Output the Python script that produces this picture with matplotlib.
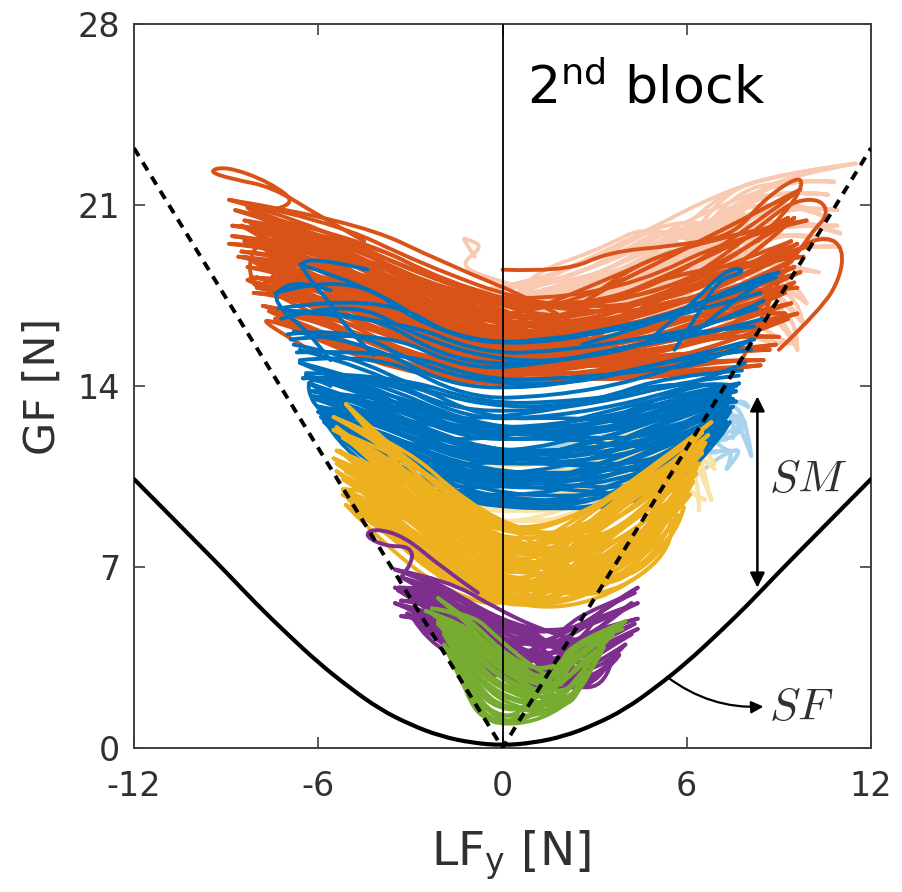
import matplotlib
matplotlib.use("Agg")
import matplotlib.pyplot as plt
from matplotlib.path import Path
from matplotlib.patches import PathPatch

# --- axis ticks
x_ticks = [-12, -6, 0, 6, 12]
y_ticks = [0, 7, 14, 21, 28]

# --- slip-force curve and slip ratio line
sf_lf = [-12, -11, -10, -9, -8, -7, -6, -5, -4, -3, -2, -1, 0, 1, 2, 3, 4, 5, 6, 7, 8, 9, 10, 11, 12]
sf_gf = [10.4, 9.2, 8.0, 6.8, 5.55, 4.4, 3.3, 2.35, 1.5, 0.9, 0.45, 0.2, 0.1, 0.2, 0.45, 0.9, 1.5, 2.35, 3.3, 4.4, 5.55, 6.8, 8.0, 9.2, 10.4]
dash_lf = [-12, 0, 12]
dash_gf = [23.2, 0, 23.2]

# --- orange block
orange_lf = [[-9, -6.5, -3.5, 0, 3.2, 6.2, 9.2],
             [-8.2, -5.6, -2.6, 0.8, 3.8, 6.8, 9.6],
             [-7.7, -4.8, -1.8, 1.3, 4.5, 7.2, 8.8],
             [-8.6, -6, -3, -0.6, 2.5, 5.5, 8.2]]
orange_start = [-8.9, -8.7, -8.3, -8.4, -8.8, -8.2, -8.5, -8.8, -8.9, -8.4, -8.1, -8.5,
                -8.6, -8.2, -8.4, -8.3, -8.2, -8.0, -8.3, -8.0, -8.1, -7.8, -7.6, -7.4]
orange_end = [9.5, 9.7, 9.9, 9.4, 9.6, 9.3, 9.8, 9.5, 9.3, 9.9, 9.6, 9.2,
              9.5, 9.7, 9.2, 9.6, 9.0, 9.4, 9.0, 8.9, 9.3, 8.7, 8.5, 8.4]
orange_gf = [[21.2, 20.4, 18.7, 17.2, 17.2, 18.0, 20.5],
             [20.8, 19.8, 18.0, 17.0, 17.3, 19.0, 21.6],
             [20.9, 19.3, 17.6, 17.3, 18.0, 19.6, 20.4],
             [20.4, 19.9, 18.3, 17.1, 17.0, 17.8, 19.6],
             [20.2, 19.8, 18.0, 16.5, 16.8, 17.8, 19.5],
             [20.3, 19.2, 17.2, 16.6, 16.9, 18.3, 20.5],
             [20.2, 18.8, 16.9, 16.5, 17.2, 18.6, 19.0],
             [19.8, 19.4, 17.6, 16.4, 16.3, 17.0, 18.6],
             [19.5, 19.2, 17.6, 15.9, 16.0, 17.0, 18.8],
             [19.6, 18.6, 16.6, 16.0, 16.4, 17.6, 19.4],
             [19.6, 18.2, 16.4, 15.9, 16.4, 17.6, 17.8],
             [19.2, 18.9, 17.1, 15.8, 15.7, 16.3, 17.6],
             [19.0, 18.6, 17.0, 15.4, 15.6, 16.6, 18.0],
             [18.9, 18.0, 16.1, 15.5, 15.9, 16.8, 18.4],
             [19.0, 17.7, 15.8, 15.3, 15.7, 16.9, 16.8],
             [18.6, 18.2, 16.6, 15.3, 15.2, 15.8, 16.8],
             [18.2, 18.0, 16.4, 14.9, 15.2, 16.0, 17.6],
             [18.2, 17.4, 15.5, 15.0, 15.3, 16.1, 17.2],
             [18.1, 17.0, 15.2, 14.8, 15.2, 16.0, 15.9],
             [17.8, 17.5, 15.9, 14.7, 14.7, 15.2, 15.6],
             [17.6, 17.4, 15.8, 14.4, 14.8, 15.6, 16.6],
             [17.1, 16.5, 15.0, 14.3, 14.7, 15.3, 15.4],
             [16.9, 16.2, 14.6, 14.2, 14.4, 15.0, 15.0],
             [16.6, 16.0, 14.6, 14.0, 14.2, 14.6, 14.8]]
orange_extra_lf = [[-4.5, -6, -7.5, -8.8, -9.6, -9.0, -7.6, -6.6, -7.6],
                   [-4.8, -6.4, -8.0, -8.3, -8.0, -7.2, -6.6, -6.0, -5.2],
                   [-5.2, -6.2, -7.2, -7.9, -7.0, -6.0],
                   [0.0, 2.0, 3.5, 5.5, 7.5, 8.5, 9.6, 9.8, 9.3, 8.3],
                   [4.5, 7.0, 8.8, 9.6, 10.4, 10.6, 10.1, 9.4],
                   [7.8, 8.8, 9.6, 10.6, 11.1, 11.0, 10.4, 9.0]]
orange_extra_gf = [[19.6, 20.6, 21.7, 22.0, 22.3, 22.5, 21.9, 21.0, 20.8],
                   [18.8, 19.8, 19.6, 18.6, 17.6, 18.6, 18.8, 18.0, 17.0],
                   [15.6, 16.0, 16.4, 16.6, 15.9, 15.2],
                   [18.5, 18.4, 19.2, 19.4, 19.8, 21.2, 22.1, 21.8, 20.8, 19.6],
                   [17.0, 18.8, 20.6, 21.2, 21.2, 20.6, 20.0, 18.8],
                   [15.0, 17.6, 19.4, 19.8, 19.3, 18.2, 17.0, 15.4]]

# --- blue block
blue_lf = [[-7.2, -5, -2.6, 0.2, 3, 5.4, 7.8],
           [-6.6, -4.4, -1.8, 1, 3.8, 6, 7.2],
           [-6.2, -4, -1.2, 1.6, 4.4, 6.6, 8.6],
           [-5.6, -3.4, -0.6, 2.2, 4.8, 6.8, 7.6]]
blue_start = [-7.4, -6.6, -7.3, -7.1, -7.2, -7.0, -6.9, -6.7, -7.0, -6.8, -6.6, -6.4, -6.8, -6.6, -6.5,
              -6.2, -6.6, -6.4, -6.2, -6.0, -6.3, -6.1, -6.0, -5.9, -6.0, -5.7, -5.8, -5.7, -5.9, -5.6]
blue_end = [8.9, 8.4, 9.0, 8.5, 8.3, 8.2, 8.5, 8.1, 8.0, 8.2, 8.1, 7.9, 7.8, 7.7, 7.6,
            7.7, 7.6, 7.5, 7.6, 7.4, 7.5, 7.4, 7.5, 7.3, 7.4, 7.3, 7.2, 7.4, 7.3, 7.1]
blue_gf = [[17.6, 18.4, 16.3, 15.5, 16.1, 16.7, 18.2],
           [18.7, 17.9, 15.9, 15.6, 16.2, 16.8, 17.6],
           [17.0, 17.6, 15.6, 15.8, 16.3, 17.3, 18.4],
           [16.9, 16.6, 15.2, 15.4, 15.9, 16.3, 17.3],
           [16.6, 17.4, 15.8, 14.9, 15.1, 15.9, 17.0],
           [16.9, 16.9, 15.0, 14.8, 15.4, 16.1, 16.3],
           [15.8, 16.2, 14.6, 14.9, 15.6, 16.0, 16.6],
           [15.3, 15.4, 14.2, 14.3, 14.6, 14.9, 15.8],
           [16.0, 16.3, 14.7, 14.0, 14.2, 15.0, 15.4],
           [16.1, 15.7, 14.0, 13.9, 14.5, 15.1, 15.8],
           [15.0, 15.3, 13.5, 13.6, 14.2, 15.2, 15.4],
           [14.5, 14.4, 13.3, 13.4, 13.8, 14.3, 14.9],
           [15.6, 15.2, 13.8, 13.1, 13.4, 14.4, 14.6],
           [15.4, 14.7, 13.1, 13.0, 13.5, 14.2, 14.4],
           [14.3, 14.4, 12.7, 12.8, 13.4, 14.2, 14.0],
           [13.8, 13.5, 12.4, 12.4, 12.9, 13.6, 14.1],
           [14.9, 14.1, 12.6, 12.2, 12.5, 13.5, 13.8],
           [14.4, 13.7, 12.2, 12.1, 12.4, 13.4, 13.9],
           [13.6, 13.4, 11.9, 12.0, 12.4, 13.4, 13.4],
           [13.2, 12.7, 11.5, 11.5, 11.9, 12.8, 13.6],
           [14.1, 13.2, 11.7, 11.3, 11.5, 12.6, 13.5],
           [13.5, 12.8, 11.3, 11.1, 11.5, 12.5, 13.0],
           [13.2, 12.5, 11.0, 11.0, 11.4, 12.5, 13.2],
           [12.8, 11.9, 10.7, 10.6, 10.9, 12.0, 13.2],
           [13.0, 12.3, 10.8, 10.3, 10.6, 11.8, 13.0],
           [12.6, 11.9, 10.4, 10.2, 10.5, 11.7, 12.6],
           [12.6, 11.6, 10.2, 10.0, 10.5, 11.8, 13.0],
           [12.5, 11.2, 9.9, 9.7, 10.0, 11.4, 12.6],
           [12.8, 11.5, 9.9, 9.4, 9.7, 11.3, 13.0],
           [12.4, 11.3, 9.6, 9.2, 9.4, 11.1, 12.2]]
blue_extra_lf = [[-4.4, -5.4, -6.7, -6.2, -5.6, -5.2, -4.2],
                 [-5.6, -6.6, -7.5, -7.1, -6.4, -5.6],
                 [-5.6, -6.4, -6.2, -5.2, -4.4],
                 [4.6, 6.2, 7.0, 7.6, 7.9, 7.0, 6.4, 5.6],
                 [2.6, 5.4, 7.2, 8.0, 9.1, 7.6, 6.2]]
blue_extra_gf = [[18.5, 18.8, 18.9, 18.0, 17.2, 16.4, 15.2],
                 [17.7, 18.1, 17.6, 16.8, 16.2, 15.0],
                 [14.0, 14.5, 13.2, 12.6, 11.8],
                 [15.6, 17.2, 18.2, 18.6, 18.4, 18.1, 16.8, 15.4],
                 [15.6, 16.6, 17.6, 18.0, 18.5, 17.4, 16.0]]

# --- yellow block
yellow_lf = [[-5.6, -3.8, -1.8, 0.4, 2.6, 4.8, 6.8],
             [-5, -3.2, -1.2, 1, 3.2, 5.2, 6.4],
             [-5.4, -3.5, -1.5, 0.8, 3, 5, 7],
             [-4.8, -3, -0.8, 1.4, 3.6, 5.6, 6.6]]
yellow_start = [-5.5, -5.1, -5.5, -5.3, -5.2, -5.4, -5.4, -5.2, -5.5, -5.3, -5.1,
                -5.3, -5.2, -5.4, -5.0, -5.2, -4.9, -5.1, -5.0, -5.1, -5.4, -5.2]
yellow_end = [6.8, 6.5, 6.7, 6.6, 6.4, 6.5, 6.3, 6.4, 6.2, 6.3, 6.1,
              6.2, 6.0, 6.1, 5.9, 5.9, 5.8, 5.7, 5.6, 5.5, 6.3, 6.6]
yellow_gf = [[12.8, 11.7, 9.5, 8.2, 9.0, 10.8, 12.6],
             [13.3, 11.0, 8.8, 8.4, 9.4, 11.0, 12.2],
             [12.3, 11.2, 9.0, 8.1, 8.7, 10.4, 12.1],
             [12.2, 10.6, 8.3, 8.0, 9.0, 10.9, 11.8],
             [12.0, 10.9, 8.8, 7.7, 8.3, 10.0, 11.6],
             [12.4, 10.4, 8.2, 7.7, 8.5, 10.0, 11.4],
             [11.5, 10.4, 8.4, 7.4, 7.9, 9.6, 11.4],
             [11.4, 9.9, 7.8, 7.4, 8.2, 10.0, 11.0],
             [11.2, 10.1, 8.0, 7.0, 7.5, 9.2, 11.1],
             [11.5, 9.7, 7.5, 6.9, 7.6, 9.2, 10.6],
             [10.7, 9.7, 7.6, 6.6, 7.1, 8.7, 10.7],
             [10.6, 9.2, 7.1, 6.6, 7.3, 9.0, 10.3],
             [10.4, 9.3, 7.2, 6.3, 6.7, 8.3, 10.3],
             [10.7, 9.0, 6.9, 6.2, 6.8, 8.4, 9.8],
             [9.9, 8.9, 6.9, 6.0, 6.3, 7.9, 9.9],
             [9.8, 8.6, 6.6, 5.9, 6.4, 8.0, 9.3],
             [9.4, 8.5, 6.6, 5.6, 6.1, 8.1, 9.6],
             [9.9, 8.3, 6.3, 5.5, 6.1, 8.0, 9.0],
             [9.6, 8.3, 6.3, 5.4, 5.9, 7.8, 9.4],
             [9.4, 7.8, 6.0, 5.3, 5.9, 7.7, 8.8],
             [11.0, 9.6, 8.0, 7.2, 6.6, 7.9, 10.8],
             [10.0, 9.9, 8.4, 6.4, 7.2, 9.4, 11.8]]

# --- purple block
purple_lf = [[-3.5, -2.2, -0.8, 0.8, 2.2, 3.4, 4.5],
             [-3.3, -1.8, -0.2, 1.2, 2.8, 3.2, 4.2],
             [-3.6, -2.5, -1, 0.4, 2, 3, 4.6]]
purple_start = [-3.5, -3.3, -3.4, -3.5, -3.4, -3.3, -3.5, -3.2, -3.3, -3.1, -2.9, -2.7]
purple_end = [4.4, 4.3, 4.4, 4.2, 4.4, 4.3, 4.4, 4.2, 4.0, 3.8, 3.4, 3.6]
purple_gf = [[6.9, 6.5, 5.4, 4.6, 4.5, 5.4, 6.2],
             [6.6, 6.1, 4.8, 4.5, 4.7, 5.4, 6.0],
             [6.2, 6.2, 5.0, 4.5, 4.5, 5.0, 5.6],
             [6.2, 5.8, 4.8, 4.1, 4.0, 4.8, 5.6],
             [6.1, 5.4, 4.3, 3.9, 3.9, 4.6, 5.0],
             [5.7, 5.6, 4.6, 3.8, 3.6, 4.2, 4.8],
             [5.6, 5.1, 4.2, 3.4, 3.4, 4.0, 4.6],
             [5.5, 4.9, 3.8, 3.3, 3.3, 3.7, 4.4],
             [5.1, 5.0, 4.0, 3.2, 2.9, 3.2, 4.0],
             [5.2, 4.5, 3.5, 2.8, 2.7, 2.9, 3.6],
             [5.0, 4.2, 3.1, 2.6, 2.5, 2.8, 3.2],
             [4.9, 4.5, 3.5, 2.5, 2.3, 2.4, 3.6]]
purple_extra_lf = [[-0.8, -2.0, -3.2, -4.2, -4.5, -3.8, -3.0, -2.9, -3.3]]
purple_extra_gf = [[6.0, 7.0, 8.2, 8.5, 8.2, 7.8, 7.8, 7.2, 6.6]]

# --- green block
green_lf = [[-2.2, -1.3, -0.5, 0.6, 1.8, 2.6, 4.2],
            [-1.9, -1, -0.2, 1, 2.0, 2.5, 3.6],
            [-2, -1.2, -0.4, 0.8, 1.8, 2.3, 3.4]]
green_start = [-2.3, -2.1, -2.5, -2.2, -2.3, -2.1, -2.0, -2.1, -1.9, -1.9, -1.9, -1.8, -1.9, -1.7]
green_end = [4.0, 3.9, 3.5, 3.9, 3.2, 3.2, 3.6, 2.9, 2.8, 3.3, 2.7, 2.6, 3.1, 2.5]
green_gf = [[5.4, 5.2, 4.3, 3.1, 3.1, 4.1, 4.9],
            [5.8, 4.9, 3.9, 3.0, 3.2, 4.1, 4.6],
            [5.3, 4.8, 3.8, 2.8, 2.8, 3.7, 4.3],
            [5.1, 4.6, 3.6, 2.5, 2.7, 3.6, 4.8],
            [5.2, 4.3, 3.3, 2.4, 2.5, 3.3, 3.9],
            [4.9, 4.1, 3.1, 2.2, 2.3, 3.0, 3.7],
            [4.7, 3.8, 2.8, 2.1, 2.4, 3.2, 4.4],
            [4.8, 3.6, 2.5, 1.9, 2.1, 2.8, 3.4],
            [4.6, 3.4, 2.3, 1.7, 1.9, 2.4, 3.2],
            [4.5, 3.0, 1.9, 1.4, 1.8, 2.3, 3.9],
            [4.4, 2.8, 1.6, 1.4, 1.6, 2.1, 3.0],
            [4.3, 2.7, 1.3, 1.2, 1.5, 2.0, 2.8],
            [4.0, 2.4, 1.0, 1.1, 1.6, 2.2, 3.6],
            [4.0, 1.9, 0.9, 1.0, 1.6, 2.2, 2.6]]

# --- pale orange block
pale_orange_lf = [[-1.2, 1, 3, 5, 7, 9, 11.5],
                  [0.5, 2.5, 4.2, 6, 8, 9.6, 10.8],
                  [-0.5, 1.8, 3.6, 5.4, 7.4, 9.2, 10.4]]
pale_orange_start = [-1.2, 0.5, -0.5, -1.0, 0.3, -0.4, -1.1, 0.6, -0.6, -1.2, 0.4, -0.5, -1.0, 0.2]
pale_orange_end = [11.5, 10.8, 10.6, 10.4, 10.9, 10.9, 11.0, 10.8, 11.0, 10.3, 9.9, 9.8, 9.6, 9.5]
pale_orange_gf = [[17.6, 18.0, 19.0, 20.2, 21.4, 22.2, 22.6],
                  [17.6, 18.4, 19.2, 20.4, 21.4, 22.0, 21.9],
                  [17.2, 17.8, 18.6, 19.6, 20.8, 21.6, 21.4],
                  [17.0, 17.4, 18.0, 19.2, 20.6, 21.2, 20.6],
                  [17.2, 17.6, 18.2, 19.0, 20.2, 21.0, 20.8],
                  [17.0, 17.2, 17.9, 18.9, 20.0, 20.2, 20.2],
                  [16.6, 16.8, 17.4, 18.5, 19.8, 20.6, 19.9],
                  [16.7, 17.2, 17.6, 18.4, 19.4, 20.0, 19.6],
                  [16.5, 16.8, 17.4, 18.2, 19.0, 19.4, 19.4],
                  [16.0, 16.4, 17.0, 18.0, 19.0, 18.6, 18.4],
                  [16.2, 16.7, 17.2, 17.8, 18.6, 18.0, 17.2],
                  [15.6, 16.1, 16.6, 17.5, 18.0, 17.6, 16.4],
                  [15.0, 15.6, 16.0, 17.0, 17.4, 16.8, 15.4],
                  [14.8, 15.4, 15.8, 16.4, 16.6, 15.4, 15.8]]
pale_orange_extra_lf = [[1.0, -0.6, -1.4, -0.6, -1.2, -1.3, -0.9]]
pale_orange_extra_gf = [[17.7, 18.2, 18.7, 19.4, 19.7, 19.7, 19.0]]

# --- pale yellow and pale blue blocks
pale_yellow_lf = [[-2, 0, 2, 3.5, 5, 6.2, 6.9],
                  [-1, 1, 2.6, 4.2, 5.6, 6.4, 6.8]]
pale_yellow_start = [-2.0, -1.0, -1.6, -0.8, -2.2, -1.2]
pale_yellow_end = [6.9, 6.8, 6.9, 6.4, 6.6, 6.7]
pale_yellow_gf = [[10.0, 9.6, 9.8, 10.4, 11.4, 11.6, 10.8],
                  [10.2, 10.0, 10.6, 11.2, 11.8, 11.0, 9.6],
                  [11.2, 10.4, 10.9, 11.8, 12.2, 12.2, 11.0],
                  [11.0, 10.8, 11.6, 12.2, 12.6, 10.4, 9.2],
                  [9.0, 8.6, 9.2, 10.0, 11.0, 9.8, 9.6],
                  [9.4, 9.0, 9.6, 9.9, 10.6, 12.0, 9.9]]
pale_blue_lf = [[0, 2, 4, 5.6, 6.8, 7.6, 8.0],
                [1, 3, 4.8, 6.2, 7.2, 7.9, 7.5]]
pale_blue_start = [0.0, 1.0, 0.5, 0.2, 0.8]
pale_blue_end = [8.0, 7.5, 7.9, 7.3, 8.1]
pale_blue_gf = [[12.2, 12.4, 12.8, 13.0, 13.2, 13.5, 13.2],
                [10.6, 11.0, 11.4, 12.0, 12.8, 12.9, 12.0],
                [9.8, 10.0, 10.6, 11.2, 11.8, 12.4, 12.6],
                [9.2, 9.5, 10.0, 10.4, 11.4, 11.6, 10.8],
                [11.4, 11.8, 12.2, 12.6, 13.4, 13.0, 11.3]]

# --- colours
C_ORANGE = "#D95319"
C_BLUE = "#0072BD"
C_YELLOW = "#EDB120"
C_PURPLE = "#7E2F8E"
C_GREEN = "#77AC30"
C_PALE_ORANGE = "#F9C9B2"
C_PALE_BLUE = "#A9D2EC"
C_PALE_YELLOW = "#FBE3A8"
C_AXIS = "#404040"
C_TEXT = "#303030"

plt.rcParams["font.family"] = "DejaVu Sans"
plt.rcParams["mathtext.fontset"] = "dejavusans"
plt.rcParams["axes.unicode_minus"] = False
LW = 2.8

fig = plt.figure(figsize=(9.02, 8.92), dpi=100)
ax = fig.add_axes([134 / 902, (892 - 748) / 892, 737 / 902, 724 / 892])


def trace(lf, gf, color, lw=LW, zorder=2):
    """Draw one LF/GF trace as a smooth stroke whose control points are the values."""
    pts = list(zip(lf, gf))
    verts = [pts[0]]
    codes = [Path.MOVETO]
    for i in range(1, len(pts) - 1):
        nxt = pts[i + 1]
        end = nxt if i == len(pts) - 2 else ((pts[i][0] + nxt[0]) / 2, (pts[i][1] + nxt[1]) / 2)
        verts += [pts[i], end]
        codes += [Path.CURVE3, Path.CURVE3]
    ax.add_patch(PathPatch(Path(verts, codes), fill=False, edgecolor=color, lw=lw,
                           capstyle="round", joinstyle="round", zorder=zorder))


def draw(lf_patterns, gf_rows, starts, ends, color, shifts=(0, 3, -4, 7), first_dense=0):
    n, m = len(gf_rows), len(lf_patterns)
    for p, k in enumerate(shifts):
        for i, gf in enumerate(gf_rows):
            if p > 0 and i < first_dense:
                continue
            j = (i + k) % n
            if first_dense and p > 0 and j < first_dense:
                j = i
            mid = lf_patterns[(i + p) % m][1:-1]
            trace([starts[i]] + list(mid) + [ends[j]], list(gf[:4]) + list(gf_rows[j][4:]), color)


def draw_free(lf_rows, gf_rows, color):
    for lf, gf in zip(lf_rows, gf_rows):
        trace(lf, gf, color)


draw(pale_orange_lf, pale_orange_gf, pale_orange_start, pale_orange_end, C_PALE_ORANGE)
draw_free(pale_orange_extra_lf, pale_orange_extra_gf, C_PALE_ORANGE)
draw(pale_blue_lf, pale_blue_gf, pale_blue_start, pale_blue_end, C_PALE_BLUE)
draw(pale_yellow_lf, pale_yellow_gf, pale_yellow_start, pale_yellow_end, C_PALE_YELLOW)
draw(orange_lf, orange_gf, orange_start, orange_end, C_ORANGE, shifts=(0, 3, -4))
draw_free(orange_extra_lf, orange_extra_gf, C_ORANGE)
draw(blue_lf, blue_gf, blue_start, blue_end, C_BLUE, shifts=(0, 2, -3), first_dense=14)
draw_free(blue_extra_lf, blue_extra_gf, C_BLUE)
draw(yellow_lf, yellow_gf, yellow_start, yellow_end, C_YELLOW, shifts=(0, 5, -6))
draw(purple_lf, purple_gf, purple_start, purple_end, C_PURPLE, shifts=(0, 3, -4))
draw_free(purple_extra_lf, purple_extra_gf, C_PURPLE)
draw(green_lf, green_gf, green_start, green_end, C_GREEN, shifts=(0, 4))

ax.axvline(0, color="black", lw=1.3, zorder=5)
ax.plot(dash_lf, dash_gf, color="black", lw=2.8, dashes=(2.4, 1.9), zorder=6)
trace(sf_lf, sf_gf, "black", lw=3.0, zorder=6)

ax.annotate("", xy=(8.3, 6.2), xytext=(8.3, 13.6),
            arrowprops=dict(arrowstyle="<|-|>", color="black", lw=1.8,
                            mutation_scale=22, shrinkA=0, shrinkB=0), zorder=7)
ax.annotate("", xy=(8.5, 1.6), xytext=(5.36, 2.75),
            arrowprops=dict(arrowstyle="-|>", color="black", lw=1.6, mutation_scale=18,
                            connectionstyle="arc3,rad=0.18", shrinkA=0, shrinkB=0), zorder=7)

ax.text(8.68, 10.4, r"$\mathit{SM}$", fontsize=33, color=C_TEXT, ha="left", va="center", math_fontfamily="cm")
ax.text(8.68, 1.55, r"$\mathit{SF}$", fontsize=33, color=C_TEXT, ha="left", va="center", math_fontfamily="cm")
ax.text(0.8, 25.5, r"2$^{\mathregular{nd}}$ block", fontsize=37.5, color="black", ha="left", va="center")

ax.set_xlim(-12, 12)
ax.set_ylim(0, 28)
ax.set_xticks(x_ticks)
ax.set_yticks(y_ticks)
ax.tick_params(direction="in", length=8, width=1.2, top=True, right=True,
               labelsize=24, colors=C_AXIS, labelcolor=C_TEXT)
ax.tick_params(axis="x", pad=16)
ax.tick_params(axis="y", pad=10)
for s in ax.spines.values():
    s.set_color(C_AXIS)
    s.set_linewidth(1.4)
ax.set_xlabel(r"LF$_{\mathregular{y}}$ [N]", fontsize=34, color=C_TEXT, labelpad=18, x=0.5115)
ax.set_ylabel("GF [N]", fontsize=31, color=C_TEXT, labelpad=10)

fig.savefig("out.png", dpi=100)
